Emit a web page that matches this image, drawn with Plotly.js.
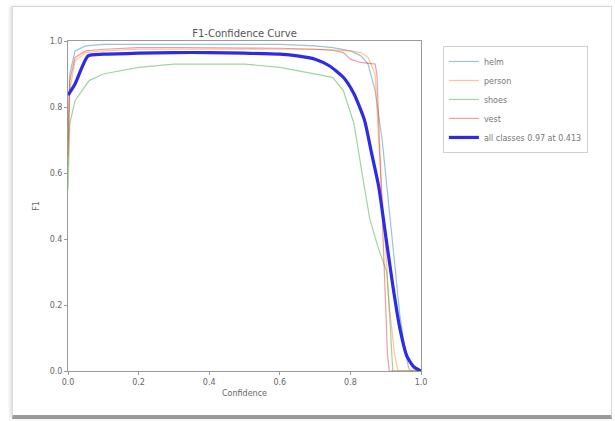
<!DOCTYPE html>
<html><head><meta charset="utf-8">
<script src="https://cdn.plot.ly/plotly-3.0.1.min.js"></script>
<style>
html,body{margin:0;padding:0;background:#fff;width:615px;height:421px;overflow:hidden}
#frame{position:absolute;left:12px;top:6px;width:598px;height:408px;border:1px solid #d8d8d8;border-bottom:4px solid #9a9a9a;box-shadow:-2px 0 3px #e0e0e0}
#plot{position:absolute;left:0;top:0;width:615px;height:421px}
</style></head>
<body>
<div id="frame"></div>
<div id="plot"></div>
<script>
// Data
const helmX   = [0, 0.005, 0.02, 0.05, 0.1, 0.2, 0.3, 0.4, 0.5, 0.6, 0.7, 0.75, 0.8, 0.83, 0.85, 0.87, 0.89, 0.91, 0.925, 0.94, 0.955, 0.965, 0.97, 1.0];
const helmY   = [0.70, 0.90, 0.97, 0.985, 0.99, 0.99, 0.99, 0.99, 0.99, 0.99, 0.985, 0.98, 0.97, 0.955, 0.93, 0.85, 0.70, 0.50, 0.33, 0.17, 0.06, 0.01, 0.0, 0.0];
const personX = [0, 0.005, 0.02, 0.05, 0.1, 0.2, 0.3, 0.4, 0.5, 0.6, 0.7, 0.8, 0.83, 0.85, 0.87, 0.88, 0.895, 0.91, 0.925, 0.935, 1.0];
const personY = [0.62, 0.85, 0.94, 0.965, 0.97, 0.975, 0.975, 0.975, 0.975, 0.975, 0.975, 0.97, 0.965, 0.95, 0.90, 0.70, 0.45, 0.20, 0.05, 0.0, 0.0];
const shoesX  = [0, 0.005, 0.02, 0.06, 0.1, 0.2, 0.3, 0.4, 0.5, 0.6, 0.7, 0.75, 0.78, 0.81, 0.836, 0.855, 0.878, 0.903, 0.912, 0.92, 1.0];
const shoesY  = [0.55, 0.75, 0.82, 0.88, 0.90, 0.92, 0.93, 0.93, 0.93, 0.92, 0.90, 0.89, 0.85, 0.75, 0.58, 0.46, 0.376, 0.30, 0.155, 0.0, 0.0];
const vestX   = [0, 0.005, 0.02, 0.05, 0.1, 0.2, 0.3, 0.4, 0.5, 0.6, 0.7, 0.75, 0.78, 0.8, 0.83, 0.87, 0.875, 0.885, 0.895, 0.905, 0.91, 1.0];
const vestY   = [0.65, 0.88, 0.95, 0.97, 0.975, 0.98, 0.98, 0.98, 0.98, 0.978, 0.975, 0.972, 0.965, 0.945, 0.935, 0.93, 0.90, 0.60, 0.30, 0.05, 0.0, 0.0];
const allX    = [0, 0.02, 0.057, 0.1, 0.2, 0.3, 0.4, 0.5, 0.6, 0.65, 0.7, 0.74, 0.78, 0.81, 0.84, 0.86, 0.88, 0.90, 0.92, 0.94, 0.96, 0.98, 1.0];
const allY    = [0.836, 0.87, 0.955, 0.96, 0.963, 0.965, 0.965, 0.963, 0.96, 0.955, 0.945, 0.925, 0.89, 0.84, 0.76, 0.66, 0.56, 0.41, 0.26, 0.13, 0.045, 0.012, 0.0];
const names = ['helm', 'person', 'shoes', 'vest', 'all classes 0.97 at 0.413'];
const xTicks = [0, 0.2, 0.4, 0.6, 0.8, 1.0];
const yTicks = [0, 0.2, 0.4, 0.6, 0.8, 1.0];

const cls = [
  [helmX, helmY, 'rgba(31,119,180,0.45)'],
  [personX, personY, 'rgba(255,127,14,0.45)'],
  [shoesX, shoesY, 'rgba(44,160,44,0.45)'],
  [vestX, vestY, 'rgba(214,39,40,0.45)']
];
const traces = cls.map((c, i) => ({
  x: c[0], y: c[1], name: names[i], type: 'scatter', mode: 'lines',
  line: {color: c[2], width: 1.2}
}));
traces.push({x: allX, y: allY, name: names[4], type: 'scatter', mode: 'lines',
  line: {color: '#2b2be8', width: 3.2, shape: 'spline', smoothing: 0.6}});

const axisCommon = {
  showgrid: false, zeroline: false, showline: true, mirror: true,
  linecolor: '#9a9a9a', linewidth: 1, ticks: 'outside', ticklen: 3,
  tickcolor: '#9a9a9a', tickfont: {family: 'DejaVu Sans', size: 8, color: '#666'},
  range: [0, 1], fixedrange: true
};
const layout = {
  width: 615, height: 421,
  margin: {l: 68, r: 194, t: 41, b: 50},
  paper_bgcolor: 'rgba(0,0,0,0)', plot_bgcolor: '#fff',
  title: {text: 'F1-Confidence Curve', font: {family: 'DejaVu Sans', size: 10, color: '#555'},
    x: 0.5, xref: 'paper', xanchor: 'center', y: 1, yref: 'paper', yanchor: 'bottom', pad: {b: 4}},
  xaxis: Object.assign({}, axisCommon, {tickvals: xTicks, ticktext: xTicks.map(v => v.toFixed(1)),
    title: {text: 'Confidence', font: {family: 'DejaVu Sans', size: 8, color: '#666'}, standoff: 4}}),
  yaxis: Object.assign({}, axisCommon, {tickvals: yTicks, ticktext: yTicks.map(v => v.toFixed(1)),
    title: {text: 'F1', font: {family: 'DejaVu Sans', size: 8, color: '#666'}, standoff: 8}}),
  showlegend: true,
  legend: {x: 1.062, y: 0.985, xanchor: 'left', yanchor: 'top',
    bgcolor: '#fff', bordercolor: '#d0d0d0', borderwidth: 1,
    font: {family: 'DejaVu Sans', size: 8, color: '#777'}, tracegroupgap: 0, itemwidth: 30}
};
Plotly.newPlot('plot', traces, layout, {staticPlot: true, displayModeBar: false});
</script>
</body></html>
